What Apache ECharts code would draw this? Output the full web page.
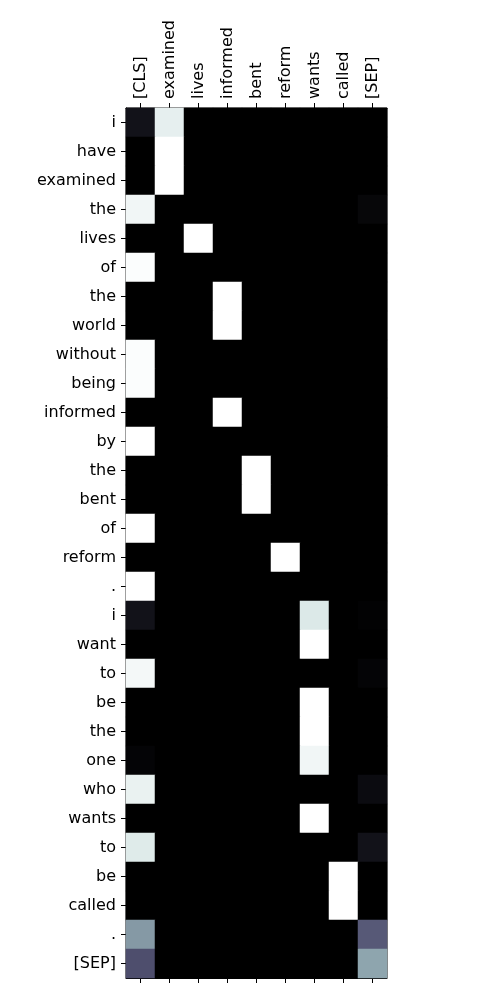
<!DOCTYPE html>
<html>
<head>
<meta charset="utf-8">
<script src="https://cdn.jsdelivr.net/npm/echarts@6/dist/echarts.min.js"></script>
<style>html,body{margin:0;padding:0;background:#fff;}#c{width:500px;height:1000px;}</style>
</head>
<body>
<div id="c"></div>
<script>
const colLabels = ['[CLS]','examined','lives','informed','bent','reform','wants','called','[SEP]'];
const rowLabels = ['i','have','examined','the','lives','of','the','world','without','being','informed','by','the','bent','of','reform','.','i','want','to','be','the','one','who','wants','to','be','called','.','[SEP]'];
// attention weights, one row per token, columns in colLabels order
const weights = [
  [0.08,0.93,0,0,0,0,0,0,0],
  [0,1,0,0,0,0,0,0,0],
  [0,1,0,0,0,0,0,0,0],
  [0.96,0,0,0,0,0,0,0,0.03],
  [0,0,1,0,0,0,0,0,0],
  [0.99,0,0,0,0,0,0,0,0],
  [0,0,0,1,0,0,0,0,0],
  [0,0,0,1,0,0,0,0,0],
  [0.99,0,0,0,0,0,0,0,0],
  [0.99,0,0,0,0,0,0,0,0],
  [0,0,0,1,0,0,0,0,0],
  [1,0,0,0,0,0,0,0,0],
  [0,0,0,0,1,0,0,0,0],
  [0,0,0,0,1,0,0,0,0],
  [1,0,0,0,0,0,0,0,0],
  [0,0,0,0,0,1,0,0,0],
  [1,0,0,0,0,0,0,0,0],
  [0.08,0,0,0,0,0,0.9,0,0.01],
  [0,0,0,0,0,0,1,0,0],
  [0.97,0,0,0,0,0,0,0,0.02],
  [0,0,0,0,0,0,1,0,0],
  [0,0,0,0,0,0,1,0,0],
  [0.02,0,0,0,0,0,0.96,0,0],
  [0.94,0,0,0,0,0,0,0,0.05],
  [0,0,0,0,0,0,1,0,0],
  [0.91,0,0,0,0,0,0,0,0.08],
  [0,0,0,0,0,0,0,1,0],
  [0,0,0,0,0,0,0,1,0],
  [0.6,0,0,0,0,0,0,0,0.4],
  [0.36,0,0,0,0,0,0,0,0.64]
];
// matplotlib "bone" colormap samples
const boneColors = ['#000000','#1c1c27','#38384e','#515171','#6f7b8f','#8ba1ab','#a6c6c6','#d3e3e2','#ffffff'];

const data = [];
weights.forEach((row, r) => row.forEach((v, c) => data.push([c, r, v])));

const font = 'DejaVu Sans';
const tick = {show: true, alignWithLabel: true, interval: 0, length: 5, lineStyle: {color: '#000', width: 1}};
const line = {show: true, lineStyle: {color: '#000', width: 1}};
const chart = echarts.init(document.getElementById('c'), null, {renderer: 'canvas'});
chart.setOption({
  animation: false,
  backgroundColor: '#fff',
  grid: {left: 126, width: 261, top: 108, height: 870, show: true, borderColor: '#000', borderWidth: 1, backgroundColor: 'transparent'},
  xAxis: [
    {type: 'category', data: colLabels, position: 'top',
     axisLine: line, axisTick: tick,
     axisLabel: {rotate: -90, margin: 9, color: '#000', fontSize: 16, fontFamily: font, interval: 0},
     splitLine: {show: false}, splitArea: {show: false}},
    {type: 'category', data: colLabels, position: 'bottom',
     axisLine: line, axisTick: tick,
     axisLabel: {show: false, interval: 0},
     splitLine: {show: false}, splitArea: {show: false}}
  ],
  yAxis: {type: 'category', data: rowLabels, inverse: true,
    axisLine: line, axisTick: tick,
    axisLabel: {margin: 10, color: '#000', fontSize: 16, fontFamily: font, interval: 0},
    splitLine: {show: false}, splitArea: {show: false}},
  visualMap: {show: false, min: 0, max: 1, dimension: 2, inRange: {color: boneColors}},
  series: [{type: 'heatmap', xAxisIndex: 0, yAxisIndex: 0, data: data, itemStyle: {borderWidth: 0}, emphasis: {disabled: true}}]
});
</script>
</body>
</html>
